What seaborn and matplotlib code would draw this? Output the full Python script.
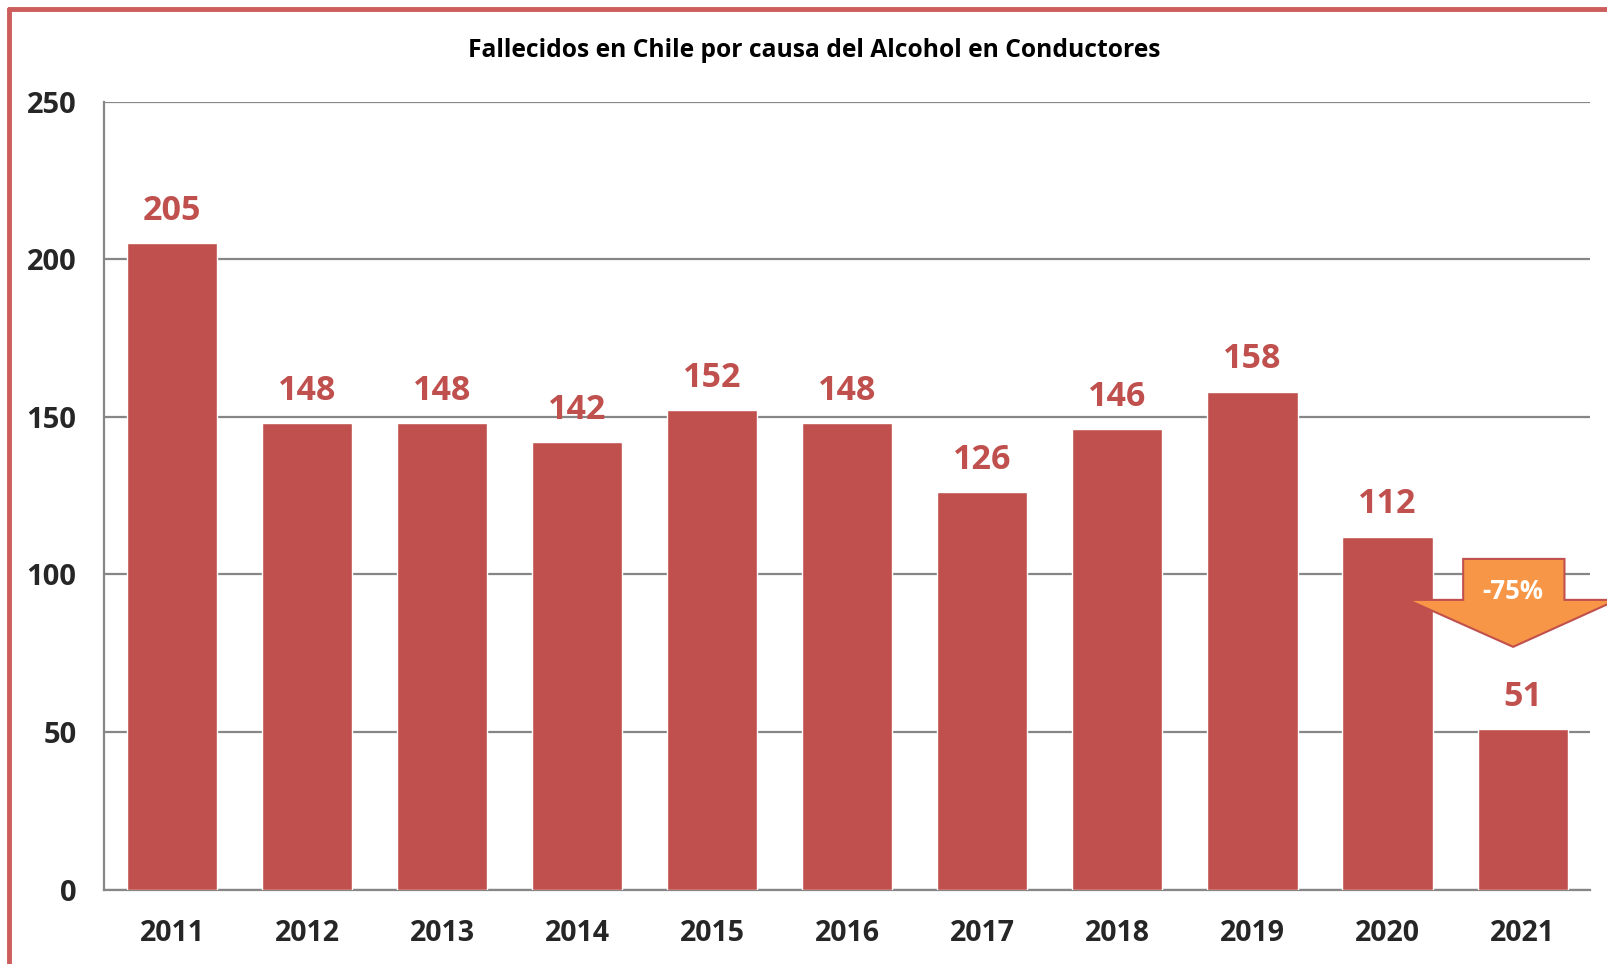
import matplotlib
matplotlib.use("Agg")
import matplotlib.pyplot as plt
import seaborn as sns
import pandas as pd
from matplotlib.patches import Polygon
from matplotlib.lines import Line2D

years = ["2011", "2012", "2013", "2014", "2015", "2016", "2017", "2018", "2019", "2020", "2021"]
deaths = [205, 148, 148, 142, 152, 148, 126, 146, 158, 112, 51]
title = "Fallecidos en Chile por causa del Alcohol en Conductores"
change_label = "-75%"

bar_color = "#C0504D"
grid_color = "#868686"

sns.set_style("white")
plt.rcParams['font.family'] = ['Open Sans', 'DejaVu Sans']

df = pd.DataFrame({"year": years, "deaths": deaths})

fig = plt.figure(figsize=(16.07, 9.64), dpi=100)
ax = fig.add_axes([0.065, 0.0772, 0.9245, 0.8175])

sns.barplot(data=df, x="year", y="deaths", color=bar_color, saturation=1,
            width=0.667, ax=ax, zorder=3)

ax.set_ylim(0, 250)
ax.set_xlim(-0.5, len(years) - 0.5)
ax.set_yticks([0, 50, 100, 150, 200, 250])
ax.yaxis.grid(True, color=grid_color, linewidth=1.6, zorder=0)
ax.set_axisbelow(True)
for s in ["top", "right"]:
    ax.spines[s].set_visible(False)
for s in ["left", "bottom"]:
    ax.spines[s].set_color(grid_color)
    ax.spines[s].set_linewidth(1.6)
ax.tick_params(axis="y", length=0, labelsize=21, pad=20)
ax.tick_params(axis="x", length=0, labelsize=20.5, pad=21)
for lab in ax.get_xticklabels() + ax.get_yticklabels():
    lab.set_fontweight("bold")
ax.set_xlabel("")
ax.set_ylabel("")

# value labels
for i, v in enumerate(deaths):
    ax.annotate(str(v), (i, v), xytext=(0, 11), textcoords="offset points",
                ha="center", va="bottom", fontsize=24.5, fontweight="bold",
                color=bar_color)

fig.text(0.5065, 0.948, title, ha="center", va="center", fontsize=17.7,
         fontweight="bold", color="black")

# down arrow annotation
arrow = Polygon([(9.56, 104.9), (10.31, 104.9), (10.31, 91.9), (10.70, 91.9),
                 (9.93, 77.0), (9.15, 91.9), (9.56, 91.9)], closed=True,
                facecolor="#F79646", edgecolor="#C0504D", linewidth=1.5,
                zorder=5, clip_on=False)
ax.add_patch(arrow)
ax.text(9.93, 94.5, change_label, ha="center", va="center", fontsize=18.5,
        fontweight="bold", color="white", zorder=6)

# frame border
fig.add_artist(Line2D([0.0059, 0.0059], [0, 0.9907], color="#CD5C5C",
                      linewidth=3.5, transform=fig.transFigure))
fig.add_artist(Line2D([0.0059, 1], [0.9907, 0.9907], color="#CD5C5C",
                      linewidth=3.5, transform=fig.transFigure))

fig.savefig("out.png", dpi=100)
